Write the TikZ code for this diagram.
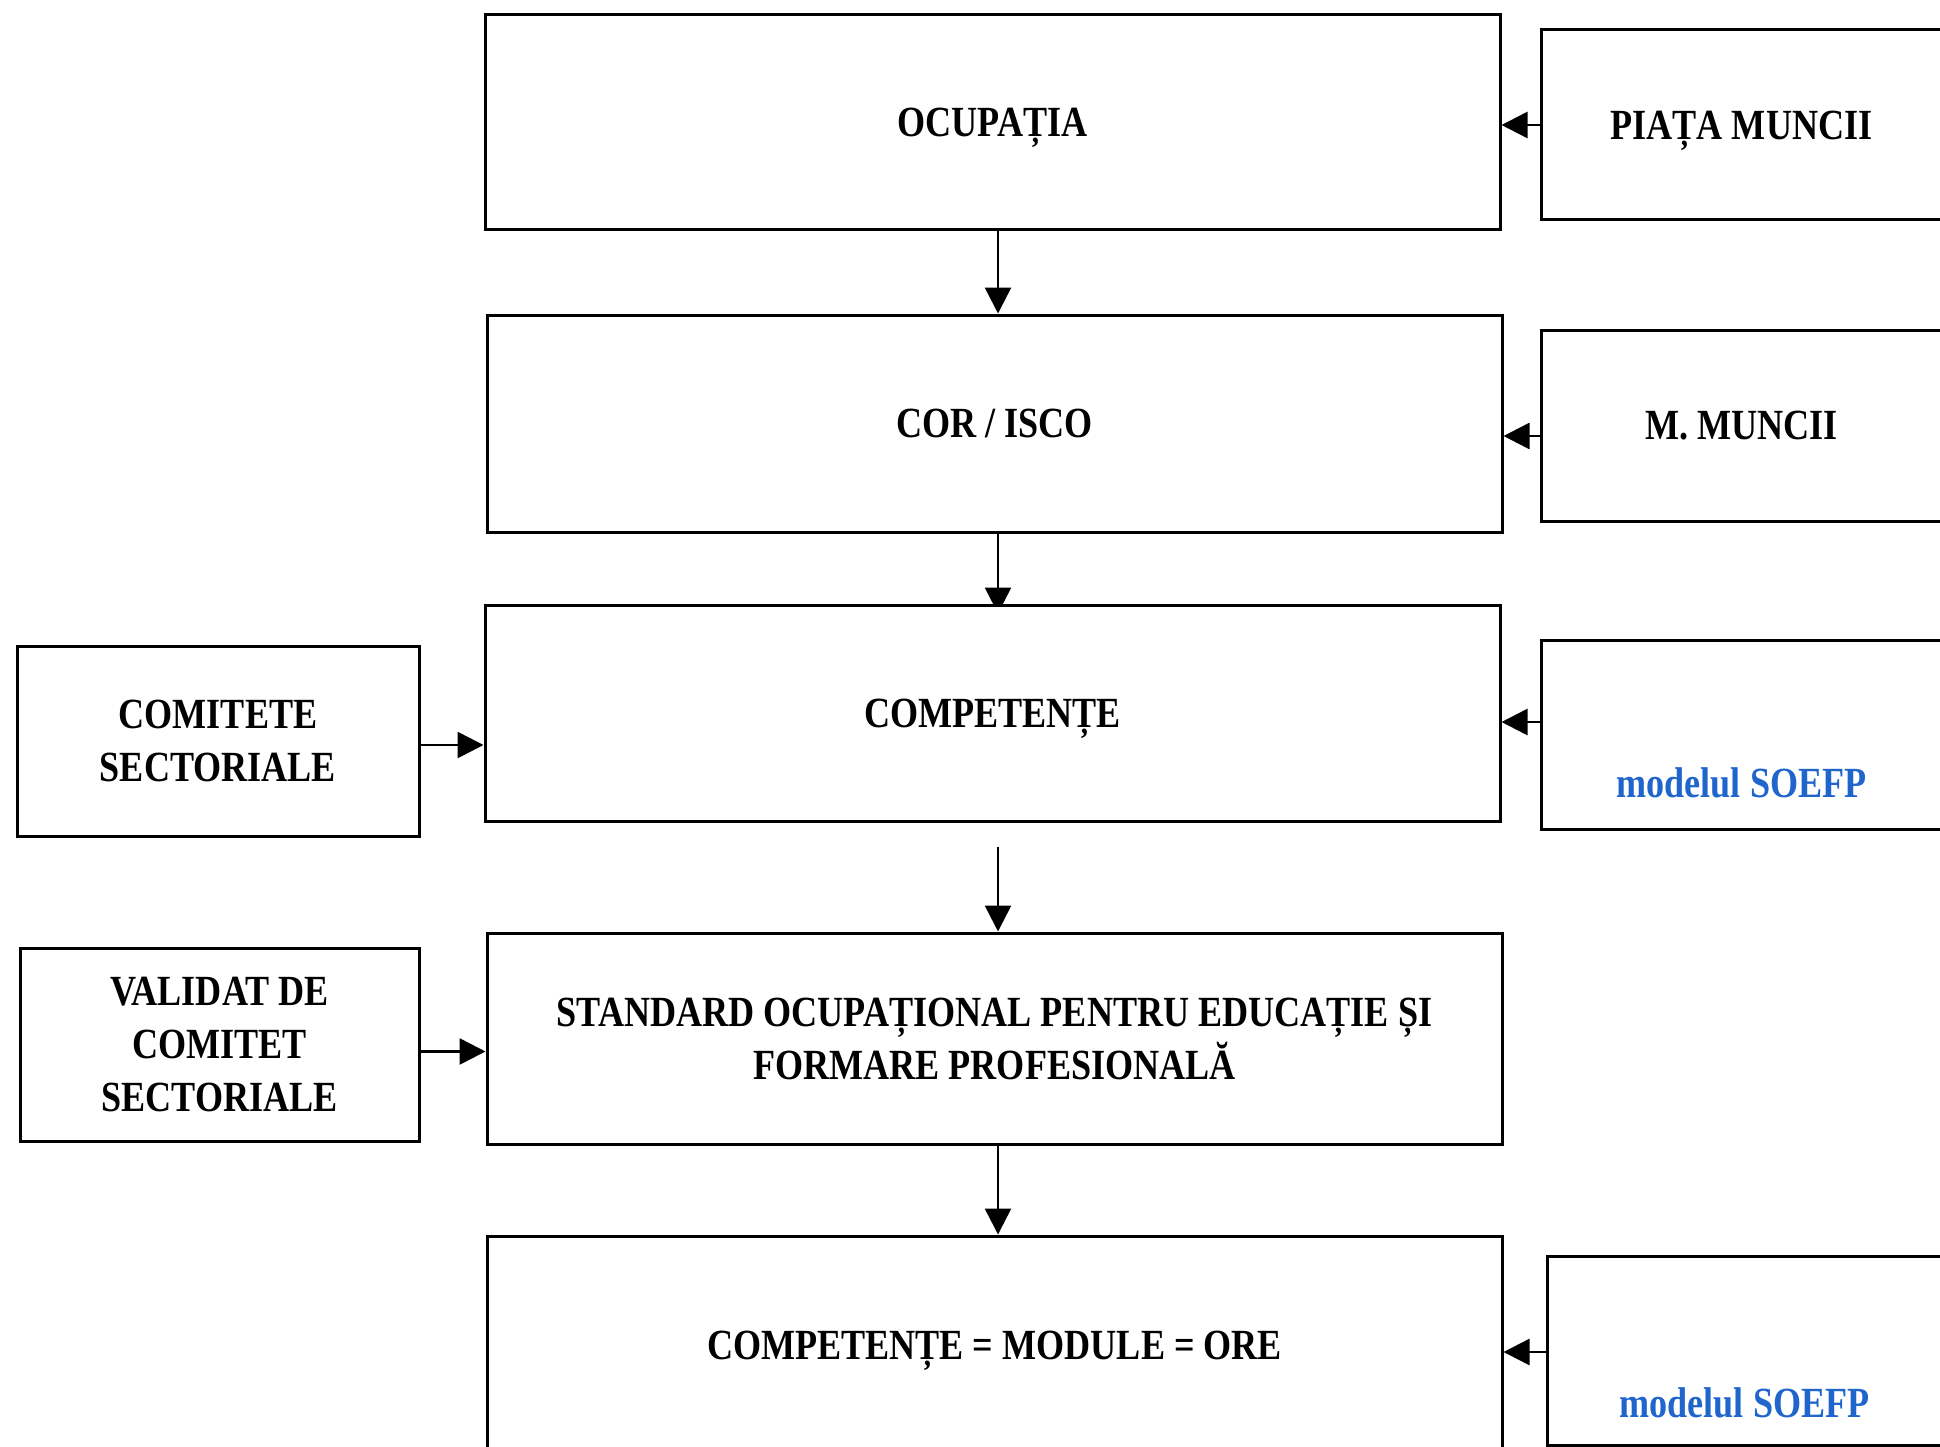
\documentclass[tikz,border=0pt]{standalone}
\usepackage{fontspec}
\setmainfont{Liberation Serif}[FakeStretch=0.84]
\usetikzlibrary{arrows.meta}
\definecolor{soefpblue}{RGB}{31,101,204}
\pgfdeclarelayer{bg}
\pgfsetlayers{bg,main}
\tikzset{
  box/.style={draw, line width=3pt, fill=white, inner sep=0pt, align=center,
    text depth=0pt, font=\fontsize{43}{53}\selectfont\bfseries},
  arr/.style={line width=2.6pt, -{Triangle[length=26pt,width=26pt]}},
  bluetxt/.style={text=soefpblue, text depth=0pt}
}
\begin{document}
\begin{tikzpicture}[x=1pt,y=-1pt]
\useasboundingbox (0,0) rectangle (1940,1447);
\begin{pgfonlayer}{bg}
\fill[white] (0,0) rectangle (1940,1447);
\end{pgfonlayer}

% main column
\node[box, minimum width=1015pt, minimum height=215pt] (ocup) at (992.5,122.5) {OCUPAȚIA};
\node[box, minimum width=1015pt, minimum height=217pt] (corisco) at (994.5,423.5) {COR / ISCO};
\node[box, minimum width=1015pt, minimum height=216pt] (comp) at (992.5,713) {COMPETENȚE};
\node[box, minimum width=1015pt, minimum height=211pt] (std) at (994.5,1038.5) {STANDARD OCUPAȚIONAL PENTRU EDUCAȚIE ȘI\\FORMARE PROFESIONALĂ};
\node[box, minimum width=1015pt, minimum height=219pt] (cmo) at (994.5,1345.5) {COMPETENȚE = MODULE = ORE};

% right column
\node[box, minimum width=401pt, minimum height=190pt] (piata) at (1741.5,125) {PIAȚA MUNCII};
\node[box, minimum width=401pt, minimum height=191pt] (mmuncii) at (1741.5,425.5) {M. MUNCII};
\node[box, bluetxt, text height=125pt, minimum width=401pt, minimum height=189pt] (soefpa) at (1741.5,734.5) {modelul SOEFP};
\node[box, bluetxt, text height=133pt, minimum width=395pt, minimum height=189pt] (soefpb) at (1744.5,1350.5) {modelul SOEFP};

% left column
\node[box, minimum width=402pt, minimum height=190pt] (comit) at (218,741) {COMITETE\\SECTORIALE};
\node[box, minimum width=399pt, minimum height=193pt] (valid) at (219.5,1044.5) {VALIDAT DE\\COMITET\\SECTORIALE};

% connector anchor points
\coordinate (ax) at (998,0);
\coordinate (c1) at ([yshift=-4pt]comit.east);
\coordinate (c2) at ([yshift=-7pt]valid.east);
\coordinate (c3) at ([yshift=-10.5pt]mmuncii.west);
\coordinate (c4) at ([yshift=12.5pt]soefpa.west);
\coordinate (c5) at ([yshift=-1.5pt]soefpb.west);
\coordinate (t1) at ([yshift=-10pt]comp.north);
\coordinate (s1) at ([yshift=-24pt]comp.south);

\begin{pgfonlayer}{bg}
\draw[arr] (ocup.south -| ax) -- (corisco.north -| ax);
\draw[arr] (corisco.south -| ax) -- (t1 -| ax);
\draw[arr] (s1 -| ax) -- (std.north -| ax);
\draw[arr] (std.south -| ax) -- (cmo.north -| ax);

\draw[arr] (c1) -- (comp.west |- c1);
\draw[arr] (c2) -- (std.west |- c2);

\draw[arr] (piata.west) -- (ocup.east |- piata.west);
\draw[arr] (c3) -- (corisco.east |- c3);
\draw[arr] (c4) -- (comp.east |- c4);
\draw[arr] (c5) -- (cmo.east |- c5);
\end{pgfonlayer}
\end{tikzpicture}
\end{document}
